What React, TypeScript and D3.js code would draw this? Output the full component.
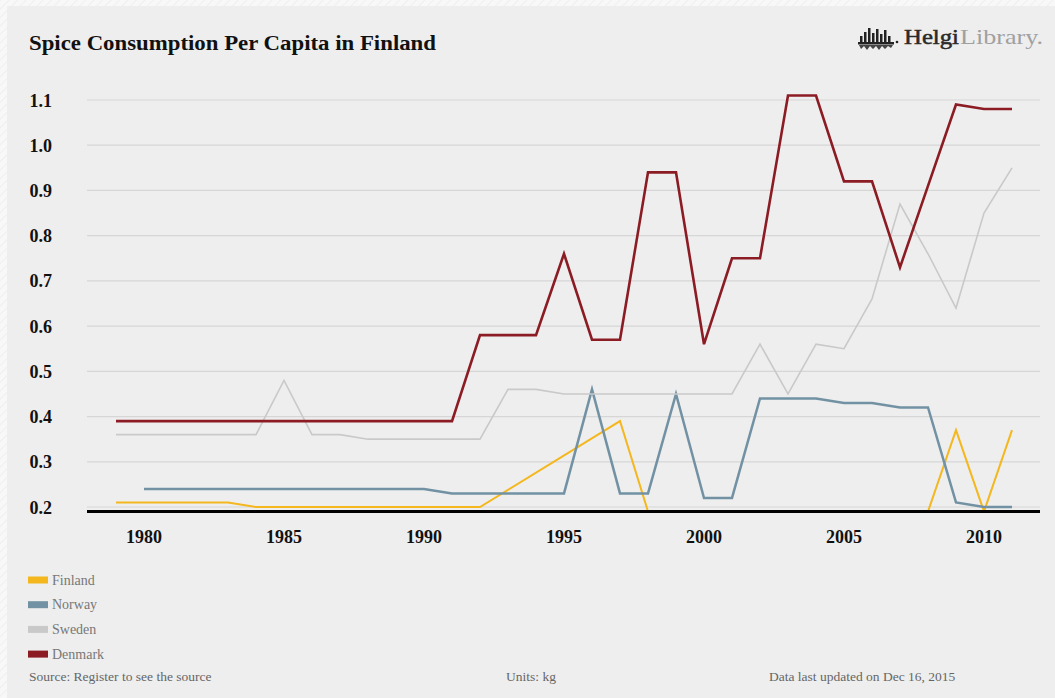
import React from "react";
import * as d3 from "d3";

const years: number[] = d3.range(1979, 2012);
const finland: (number | null)[] = [0.21, 0.21, 0.21, 0.21, 0.21, 0.2, 0.2, 0.2, 0.2, 0.2, 0.2, 0.2, 0.2, 0.2, null, null, null, null, 0.39, 0.19, 0.19, 0.19, 0.19, 0.19, 0.19, 0.19, 0.19, 0.19, 0.19, 0.19, 0.37, 0.19, 0.37];
const norway: (number | null)[] = [null, 0.24, 0.24, 0.24, 0.24, 0.24, 0.24, 0.24, 0.24, 0.24, 0.24, 0.24, 0.23, 0.23, 0.23, 0.23, 0.23, 0.46, 0.23, 0.23, 0.45, 0.22, 0.22, 0.44, 0.44, 0.44, 0.43, 0.43, 0.42, 0.42, 0.21, 0.2, 0.2];
const sweden: (number | null)[] = [0.36, 0.36, 0.36, 0.36, 0.36, 0.36, 0.48, 0.36, 0.36, 0.35, 0.35, 0.35, 0.35, 0.35, 0.46, 0.46, 0.45, 0.45, 0.45, 0.45, 0.45, 0.45, 0.45, 0.56, 0.45, 0.56, 0.55, 0.66, 0.87, 0.76, 0.64, 0.85, 0.95];
const denmark: (number | null)[] = [0.39, 0.39, 0.39, 0.39, 0.39, 0.39, 0.39, 0.39, 0.39, 0.39, 0.39, 0.39, 0.39, 0.58, 0.58, 0.58, 0.76, 0.57, 0.57, 0.94, 0.94, 0.56, 0.75, 0.75, 1.11, 1.11, 0.92, 0.92, 0.73, 0.91, 1.09, 1.08, 1.08];

const seriesNames = ["Finland", "Norway", "Sweden", "Denmark"];
const seriesValues = [finland, norway, sweden, denmark];
const seriesColors = ["#f4b71e", "#7292a4", "#c9c9c9", "#8c1c24"];
const seriesWidths = [2, 2.5, 1.6, 2.6];

const yTicks = [0.2, 0.3, 0.4, 0.5, 0.6, 0.7, 0.8, 0.9, 1.0, 1.1];
const xTicks = [1980, 1985, 1990, 1995, 2000, 2005, 2010];

const title = "Spice Consumption Per Capita in Finland";
const sourceText = "Source: Register to see the source";
const unitsText = "Units: kg";
const updatedText = "Data last updated on Dec 16, 2015";

const FONT = "'Liberation Serif', 'Times New Roman', serif";

export default function App() {
  const x = d3.scaleLinear().domain([1979, 2011]).range([116, 1012]);
  const y = d3.scaleLinear().domain([0.2, 1.1]).range([507, 100]);
  const plotLeft = 87;
  const plotRight = 1040;
  const axisY = 511.5;

  const line = d3
    .line<{ yr: number; v: number }>()
    .x((d) => x(d.yr))
    .y((d) => y(d.v));

  const paths = seriesValues.map((vals) =>
    line(
      years
        .map((yr, i) => ({ yr, v: vals[i] as number }))
        .filter((d) => d.v !== null && d.v !== undefined)
    )
  );

  // logo bars (decorative)
  const logoBars = [
    [0, 6], [4, 10], [8, 14], [12, 9], [16, 13], [20, 8], [24, 12], [28, 6],
  ];

  return (
    <svg
      width={1055}
      height={698}
      style={{ position: "absolute", left: 0, top: 0, fontFamily: FONT }}
    >
      <defs>
        <clipPath id="plotClip">
          <rect x={plotLeft} y={80} width={plotRight - plotLeft} height={axisY - 80} />
        </clipPath>
        <pattern id="hatch" width="6" height="6" patternUnits="userSpaceOnUse" patternTransform="rotate(45)">
          <rect width="6" height="6" fill="#f8f8f8" />
          <line x1="0" y1="0" x2="0" y2="6" stroke="#efefef" strokeWidth="2" />
        </pattern>
      </defs>
      <rect x={0} y={0} width={1055} height={698} fill="url(#hatch)" />
      <rect x={7} y={6} width={1048} height={692} fill="#eeeeee" />

      <text
        x={29}
        y={50}
        fontSize={20}
        fontWeight="bold"
        fill="#111"
        textLength={407}
        lengthAdjust="spacingAndGlyphs"
      >
        {title}
      </text>

      {/* logo */}
      <g transform="translate(857,28)">
        {logoBars.map(([bx, h], i) => (
          <rect key={i} x={bx + 3} y={14 - h} width={2.5} height={h} fill="#222" />
        ))}
        <rect x={1} y={14} width={36} height={2.5} fill="#222" />
        <path d="M2,17 L4,21 L7,18 L10,22 L13,18 L16,21 L19,18 L22,22 L25,18 L28,21 L31,18 L34,20 L36,17 Z" fill="#444" />
        <circle cx={40} cy={14} r={1.3} fill="#222" />
      </g>
      <text x={904} y={44} fontSize={21} fill="#2a2a2a" fontFamily={FONT} stroke="#2a2a2a" strokeWidth={0.5} textLength={55} lengthAdjust="spacingAndGlyphs">
        Helgi
      </text>
      <text x={960} y={44} fontSize={21} fill="#a0a0a0" fontFamily={FONT} textLength={83} lengthAdjust="spacingAndGlyphs">
        Library.
      </text>

      {/* gridlines */}
      {yTicks.map((t) => (
        <line
          key={t}
          x1={plotLeft}
          x2={plotRight}
          y1={y(t)}
          y2={y(t)}
          stroke="#d6d6d6"
          strokeWidth={1.2}
        />
      ))}

      {/* y labels */}
      {yTicks.map((t) => (
        <text
          key={"yl" + t}
          x={52}
          y={y(t) + 6.5}
          textAnchor="end"
          fontSize={18}
          fontWeight="bold"
          fill="#111"
        >
          {t.toFixed(1)}
        </text>
      ))}

      {/* series */}
      <g clipPath="url(#plotClip)">
        {paths.map((p, i) => (
          <path
            key={seriesNames[i]}
            d={p || ""}
            fill="none"
            stroke={seriesColors[i]}
            strokeWidth={seriesWidths[i]}
            strokeLinejoin="miter"
          />
        ))}
      </g>

      {/* x axis */}
      <line x1={plotLeft} x2={plotRight} y1={axisY} y2={axisY} stroke="#000" strokeWidth={3} />
      {xTicks.map((t) => (
        <text
          key={"xl" + t}
          x={x(t)}
          y={543}
          textAnchor="middle"
          fontSize={18}
          fontWeight="bold"
          fill="#111"
        >
          {t}
        </text>
      ))}

      {/* legend */}
      {seriesNames.map((n, i) => (
        <g key={"lg" + n} transform={`translate(28, ${580 + i * 24.7})`}>
          <rect x={0} y={-3.5} width={20} height={7} fill={seriesColors[i]} />
          <text x={24} y={4.5} fontSize={14} fill="#777">
            {n}
          </text>
        </g>
      ))}

      {/* footer */}
      <text x={29} y={681} fontSize={13.5} fill="#666">
        {sourceText}
      </text>
      <text x={506} y={681} fontSize={13.5} fill="#666">
        {unitsText}
      </text>
      <text x={769} y={681} fontSize={13.5} fill="#666">
        {updatedText}
      </text>
    </svg>
  );
}
